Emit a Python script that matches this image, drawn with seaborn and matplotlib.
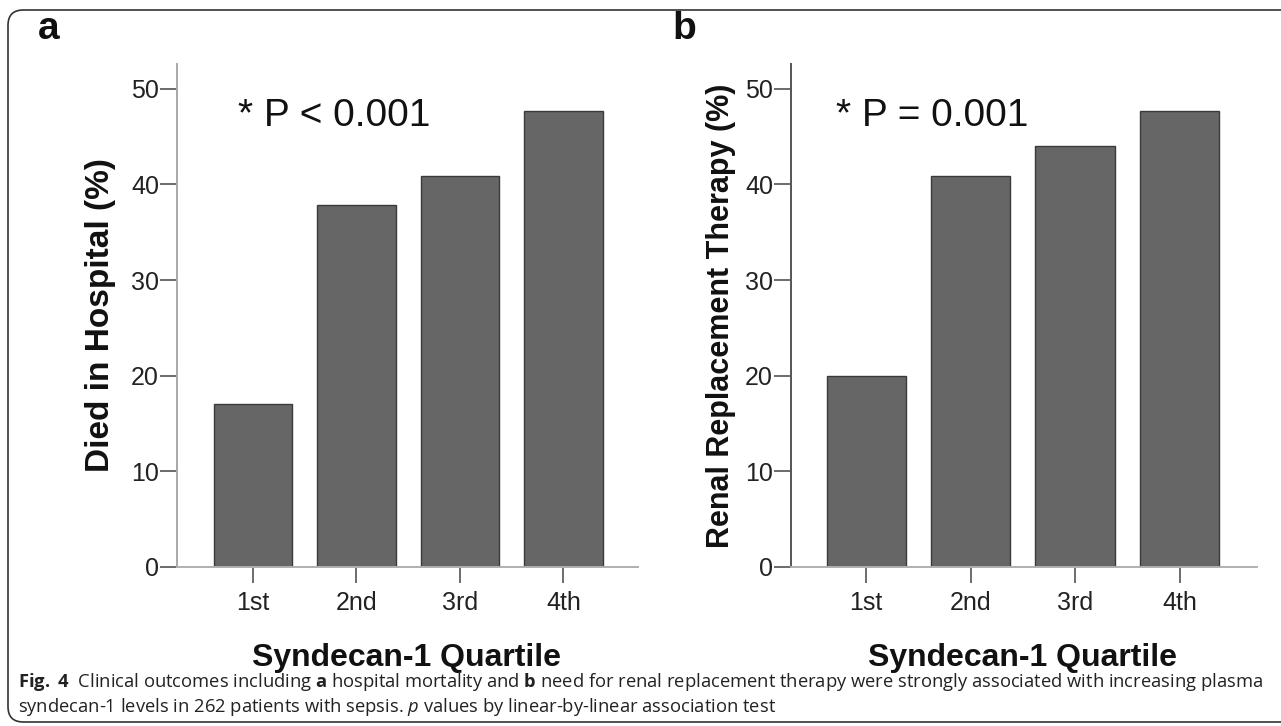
import matplotlib
matplotlib.use("Agg")
import matplotlib.pyplot as plt
from matplotlib import font_manager
from matplotlib.patches import FancyBboxPatch
import seaborn as sns
import pandas as pd

# ---- data ----
quartiles = ["1st", "2nd", "3rd", "4th"]
died_pct = [17.0, 37.9, 40.9, 47.7]
rrt_pct = [20.0, 40.9, 44.0, 47.7]
ytick_vals = [0, 10, 20, 30, 40, 50]
panel_letters = ["a", "b"]
ylabels = ["Died in Hospital (%)", "Renal Replacement Therapy (%)"]
xlabel = "Syndecan-1 Quartile"
p_texts = ["* P < 0.001", "* P = 0.001"]
caption_line1 = (r"$\bf{Fig.\ 4}$  Clinical outcomes including $\bf{a}$ hospital mortality and $\bf{b}$ need for renal "
                 "replacement therapy were strongly associated with increasing plasma")
caption_line2 = "syndecan-1 levels in 262 patients with sepsis. $\\it{p}$ values by linear-by-linear association test"

sns.set_theme(style="white")
plt.rcParams["font.family"] = ["Liberation Sans", "DejaVu Sans"]
plt.rcParams["mathtext.fontset"] = "custom"

installed = {f.name for f in font_manager.fontManager.ttflist}
cap_font = "Liberation Sans Narrow" if "Liberation Sans Narrow" in installed else "Open Sans"
plt.rcParams["mathtext.rm"] = cap_font
plt.rcParams["mathtext.bf"] = cap_font + ":bold"
plt.rcParams["mathtext.it"] = cap_font + ":italic"

W, H = 1281, 726
fig = plt.figure(figsize=(W / 100, H / 100), dpi=100)

# axes boxes in pixels: (left, right, top, bottom)
boxes = [(177, 638, 64, 567), (791, 1257, 64, 567)]
xlims = [(-0.734, 3.72), (-0.72, 3.74)]
left_spine_colors = ["#a8a8a8", "#555555"]
ylabel_x = [-0.167, -0.150]
ylabel_size = [24, 22]
p_pos = [(-0.145, 46.1), (-0.29, 46.1)]
letter_pos = [(38, 39), (672, 39)]
datasets = [died_pct, rrt_pct]

for i in range(2):
    l, r, t, b = boxes[i]
    ax = fig.add_axes([l / W, 1 - b / H, (r - l) / W, (b - t) / H])
    df = pd.DataFrame({"Quartile": quartiles, "Value": datasets[i]})
    sns.barplot(data=df, x="Quartile", y="Value", ax=ax, color="#666666",
                saturation=1, width=0.76, edgecolor="#3a3a3a", linewidth=1.0)
    ax.set_xlim(*xlims[i])
    ax.set_ylim(0, 52.6)
    ax.set_yticks(ytick_vals)
    ax.set_yticklabels([str(v) for v in ytick_vals], fontsize=18, color="#222222")
    ax.tick_params(axis="y", direction="out", length=12, width=1.1, color="#444444",
                   pad=1, left=True)
    ax.tick_params(axis="x", direction="out", length=11.5, width=1.1, color="#444444",
                   pad=6, labelsize=18, labelcolor="#222222", bottom=True)
    for s in ["top", "right"]:
        ax.spines[s].set_visible(False)
    ax.spines["left"].set_color(left_spine_colors[i])
    ax.spines["left"].set_linewidth(1.4)
    ax.spines["bottom"].set_color("#b0b0b0")
    ax.spines["bottom"].set_linewidth(1.4)
    ax.set_ylabel(ylabels[i], fontsize=ylabel_size[i], fontweight="bold", color="#111111")
    ax.yaxis.label.set_va("center")
    ax.yaxis.set_label_coords(ylabel_x[i], 0.5)
    ax.set_xlabel(xlabel, fontsize=23, fontweight="bold", color="#111111")
    ax.xaxis.label.set_va("center")
    ax.xaxis.set_label_coords(0.497, -0.181)
    ax.set_facecolor("none")
    ax.grid(False)
    ax.text(p_pos[i][0], p_pos[i][1], p_texts[i], fontsize=28, color="#111111",
            ha="left", va="baseline")
    fig.text(letter_pos[i][0] / W, 1 - letter_pos[i][1] / H, panel_letters[i],
             fontsize=28, fontweight="bold", color="#111111", ha="left", va="baseline")

# caption, sized so line 1 spans the same width as in the reference
cap_size = 13.5
t1 = fig.text(18 / W, 1 - 682 / H, caption_line1, fontsize=cap_size,
              family=[cap_font, "DejaVu Sans"], color="#222222", ha="left", va="center")
renderer = fig.canvas.get_renderer()
w1 = t1.get_window_extent(renderer).width
cap_size = cap_size * 1245 / w1
t1.set_fontsize(cap_size)
fig.text(18 / W, 1 - 707 / H, caption_line2, fontsize=cap_size,
         family=[cap_font, "DejaVu Sans"], color="#222222", ha="left", va="center")

# border
border = FancyBboxPatch((8 / W, 4 / H), (W + 20) / W, (712 / H),
                        boxstyle="round,pad=0,rounding_size=0.012",
                        transform=fig.transFigure, fill=False, edgecolor="#333333",
                        linewidth=1.2, mutation_aspect=W / H)
fig.patches.append(border)

fig.savefig("out.png", dpi=100)
